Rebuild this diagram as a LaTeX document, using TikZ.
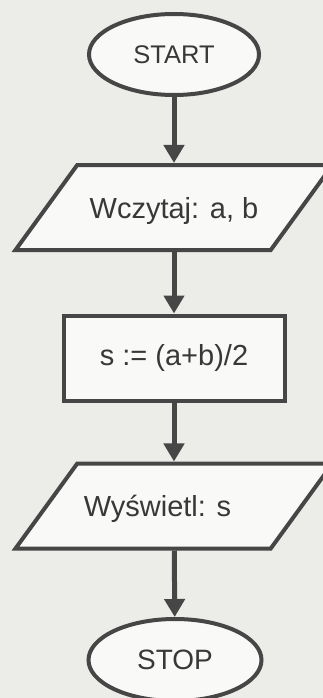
\documentclass[tikz,border=0pt]{standalone}
\usepackage{fontspec}
\setmainfont{Liberation Sans}
\usepackage{xcolor}
\usetikzlibrary{arrows.meta,shapes.geometric}
\definecolor{ink}{RGB}{70,70,70}
\definecolor{paper}{RGB}{236,236,233}
\definecolor{boxfill}{RGB}{249,249,247}

\begin{document}
\begin{tikzpicture}[x=1pt,y=-1pt,>={Triangle[width=20pt,length=18pt]},
  font=\fontsize{29}{34}\selectfont,
  term/.style={ellipse,draw=ink,fill=boxfill,line width=4pt,inner sep=0pt,text=ink!80!black},
  io/.style={trapezium,trapezium left angle=54,trapezium right angle=126,
    trapezium stretches body,draw=ink,fill=boxfill,line width=4pt,
    text height=53pt,text depth=32pt,
    minimum width=317pt,inner sep=0pt,text=ink!80!black},
  proc/.style={rectangle,draw=ink,fill=boxfill,line width=4pt,
    minimum width=221pt,minimum height=85pt,inner sep=0pt,text=ink!80!black},
  flow/.style={->,draw=ink,fill=ink,line width=5pt}]
\path[use as bounding box,fill=paper] (0,0) rectangle (323,698);
% start / stop
\node[term,minimum width=170pt,minimum height=81pt,font=\fontsize{25.5}{30}\selectfont] (start) at (174,54.5) {START};
\node[term,minimum width=173pt,minimum height=82pt,font=\fontsize{28}{33}\selectfont] (stop) at (175,660) {STOP};
% steps
\node[io] (read) at (174,207.5) {Wczytaj: a, b};
\node[proc] (calc) at (174,358) {s := (a+b)/2};
\node[io] (show) at (174,506) {Wyświetl: s\hspace*{33pt}};
% arrows
\draw[flow] (start) -- (read);
\draw[flow] (read) -- (calc);
\draw[flow] (calc) -- (show);
\draw[flow] (show) -- (stop);
\end{tikzpicture}
\end{document}
